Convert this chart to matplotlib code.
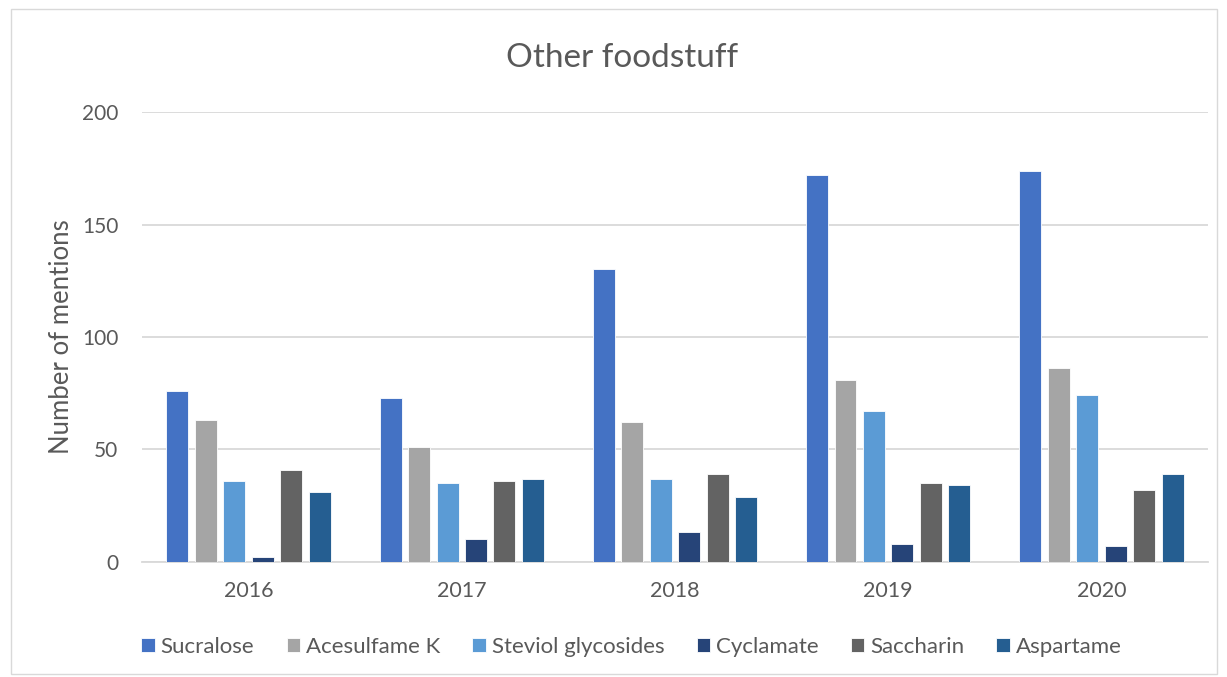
import numpy as np
import matplotlib.pyplot as plt
from matplotlib.patches import Rectangle

years = ["2016", "2017", "2018", "2019", "2020"]
sweeteners = ["Sucralose", "Acesulfame K", "Steviol glycosides", "Cyclamate", "Saccharin", "Aspartame"]

sucralose = [76, 73, 130, 172, 174]
acesulfame = [63, 51, 62, 81, 86]
steviol = [36, 35, 37, 67, 74]
cyclamate = [2, 10, 13, 8, 7]
saccharin = [41, 36, 39, 35, 32]
aspartame = [31, 37, 29, 34, 39]

series = [sucralose, acesulfame, steviol, cyclamate, saccharin, aspartame]
colors = ["#4472C4", "#A5A5A5", "#5B9BD5", "#264478", "#636363", "#255E91"]

plt.rcParams['font.family'] = ['Lato', 'DejaVu Sans']
txt = "#595959"

fig = plt.figure(figsize=(12.27, 6.77), dpi=100)
ax = fig.add_axes([0.1157, 0.1703, 0.8688, 0.6641])

x = np.arange(len(years))
slot = 0.1335
width = 0.103
for i, (name, vals) in enumerate(zip(sweeteners, series)):
    ax.bar(x + (i - 2.5) * slot, vals, width, color=colors[i], label=name,
           edgecolor="white", linewidth=0.6, zorder=3)

ax.set_xlim(-0.5, 4.5)
ax.set_ylim(0, 200)
ax.set_yticks([0, 50, 100, 150, 200])
ax.set_xticks(x)
ax.set_xticklabels(years)
ax.yaxis.grid(True, color="#D9D9D9", linewidth=1.3, zorder=0)
for s in ["top", "right", "left"]:
    ax.spines[s].set_visible(False)
ax.spines["bottom"].set_color("#D9D9D9")
ax.spines["bottom"].set_linewidth(1.3)
ax.tick_params(axis="both", length=0, labelsize=15, colors=txt)
ax.tick_params(axis="x", labelsize=15.5, pad=14)
ax.tick_params(axis="y", pad=17)
ax.set_ylabel("Number of mentions", fontsize=18.5, color=txt, labelpad=6)

fig.text(0.507, 0.915, "Other foodstuff", ha="center", va="center", fontsize=24, color=txt)

fig.legend(loc="center", bbox_to_anchor=(0.5147, 0.044), ncol=6, frameon=False,
           fontsize=16, handlelength=0.6, handleheight=0.6, handletextpad=0.27,
           columnspacing=1.45, labelcolor=txt)

fig.patches.append(Rectangle((0.009, 0.005), 0.983, 0.982, transform=fig.transFigure,
                             fill=False, edgecolor="#D9D9D9", linewidth=1))

fig.savefig("out.png", dpi=100)
